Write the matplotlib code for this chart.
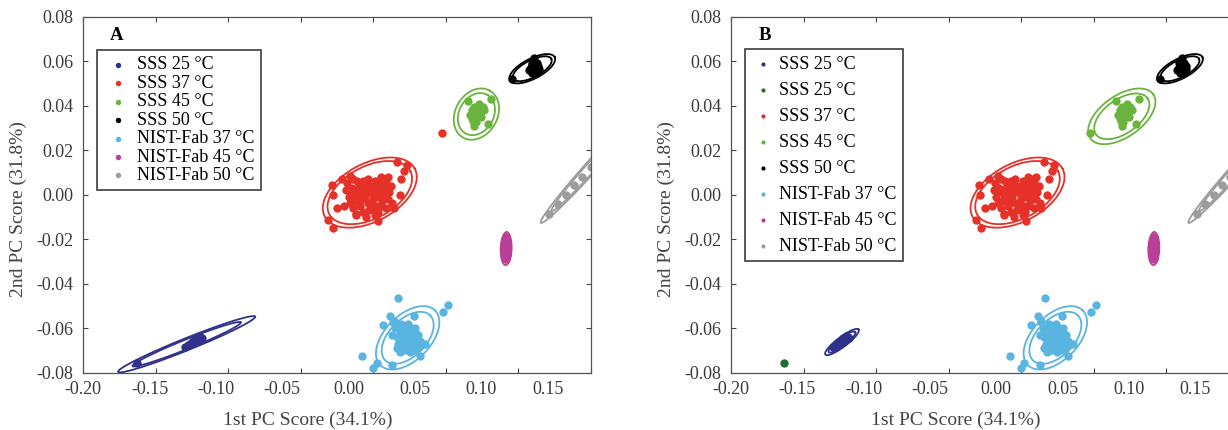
import numpy as np
import matplotlib
matplotlib.use("Agg")
import matplotlib.pyplot as plt

plt.rcParams['font.family'] = ['Liberation Serif', 'DejaVu Serif']
plt.rcParams['axes.unicode_minus'] = False

X_TICKS = [-0.20, -0.15, -0.10, -0.05, 0.00, 0.05, 0.10, 0.15]
Y_TICKS = [-0.08, -0.06, -0.04, -0.02, 0.00, 0.02, 0.04, 0.06, 0.08]

# PC scores (1st PC, 2nd PC)
SSS25_X = [-0.1276, -0.1230, -0.1195, -0.1252, -0.1299, -0.1215, -0.1240, -0.1205, -0.1265, -0.1185]
SSS25_Y = [-0.0677, -0.0647, -0.0640, -0.0662, -0.0685, -0.0652, -0.0660, -0.0636, -0.0672, -0.0645]
SSS25_OUT_X = [-0.1632]
SSS25_OUT_Y = [-0.0756]

SSS37_X = [0.0161, 0.0230, 0.0210, 0.0190, 0.0100, -0.0287, -0.0218, -0.0160, -0.0310, -0.0276,
           0.0034, -0.0120, -0.0280, -0.0250, 0.0140, 0.0180,
           -0.015, -0.012, -0.010, -0.008, -0.006, -0.004, -0.002, 0.000, 0.002, 0.004,
           0.006, -0.009, -0.013, -0.005, 0.001, 0.005, 0.008, -0.017, -0.011, -0.003,
           0.003, -0.007, 0.010, -0.001, -0.014, 0.007, -0.019, 0.011, -0.006, 0.000,
           -0.009, 0.004, -0.002, -0.016, 0.009, -0.020,
           -0.018, -0.014, -0.011, -0.007, -0.004, -0.001, 0.002, 0.005, 0.008, 0.012,
           -0.016, -0.012, -0.008, -0.003, 0.001, 0.006, 0.009, -0.010, -0.005, 0.003,
           -0.013, 0.013]
SSS37_Y = [0.0148, 0.0133, 0.0105, 0.0072, 0.0080, 0.0043, 0.0068, 0.0085, -0.0115, -0.0152,
           -0.0118, -0.0085, 0.0000, -0.0060, -0.0060, 0.0000,
           0.003, 0.000, 0.004, -0.002, 0.002, -0.004, 0.001, -0.002, 0.003, -0.001,
           0.002, -0.005, -0.003, 0.005, 0.006, -0.005, 0.004, -0.001, 0.006, -0.007,
           -0.008, -0.008, -0.002, 0.004, -0.006, 0.007, 0.002, 0.001, -0.001, 0.000,
           0.001, 0.005, -0.004, -0.004, -0.006, -0.005,
           0.005, 0.007, -0.001, 0.006, 0.007, -0.006, -0.005, 0.008, 0.000, 0.004,
           0.001, -0.009, 0.003, 0.002, -0.009, -0.003, 0.006, -0.003, -0.010, 0.000,
           0.002, -0.004]
SSS37_OUT_X = [0.0476]
SSS37_OUT_Y = [0.0275]

SSS45_X = [0.0655, 0.0810, 0.0793, 0.0694, 0.0708, 0.0724, 0.0754, 0.0713, 0.0679, 0.0701,
           0.0736, 0.0667, 0.0687, 0.0729, 0.0763, 0.0695, 0.0720, 0.0745, 0.0705, 0.0680]
SSS45_Y = [0.0422, 0.0430, 0.0316, 0.0308, 0.0365, 0.0392, 0.0392, 0.0358, 0.0380, 0.0343,
           0.0365, 0.0358, 0.0331, 0.0407, 0.0380, 0.0395, 0.0370, 0.0350, 0.0325, 0.0345]

SSS50_X = [0.0957, 0.1107, 0.1085, 0.1100, 0.1120, 0.1130, 0.1095, 0.1110, 0.1140, 0.1075, 0.1115,
           0.1105, 0.1090, 0.1125, 0.1135, 0.1100]
SSS50_Y = [0.0520, 0.0613, 0.0575, 0.0560, 0.0570, 0.0555, 0.0545, 0.0585, 0.0565, 0.0560, 0.0548,
           0.0595, 0.0590, 0.0590, 0.0578, 0.0550]

NIST37_X = [0.0168, 0.0517, 0.0479, 0.0115, 0.0138, 0.0069, 0.0283, 0.0357, 0.0322, 0.0127,
            0.0000, 0.0023, -0.0080,
            0.015, 0.018, 0.021, 0.024, 0.027, 0.030, 0.020, 0.023, 0.026, 0.017, 0.029,
            0.032, 0.022, 0.025, 0.019, 0.028, 0.013, 0.031, 0.024, 0.016, 0.034, 0.020, 0.027,
            0.014, 0.019, 0.023, 0.026, 0.029, 0.021, 0.018, 0.025, 0.031, 0.016, 0.022, 0.028]
NIST37_Y = [-0.0467, -0.0497, -0.0530, -0.0547, -0.0572, -0.0587, -0.0547, -0.0670, -0.0727, -0.0767,
            -0.0782, -0.0757, -0.0727,
            -0.060, -0.062, -0.059, -0.061, -0.063, -0.065, -0.065, -0.067, -0.068, -0.067, -0.060,
            -0.066, -0.064, -0.064, -0.069, -0.070, -0.063, -0.069, -0.058, -0.064, -0.067, -0.061, -0.066,
            -0.057, -0.058, -0.062, -0.060, -0.062, -0.070, -0.071, -0.071, -0.063, -0.069, -0.066, -0.067]

NIST45_X = [0.0915, 0.0913, 0.0918, 0.0912, 0.0916, 0.0920, 0.0910, 0.0917, 0.0914, 0.0919, 0.0911]
NIST45_Y = [-0.0200, -0.0220, -0.0240, -0.0260, -0.0280, -0.0230, -0.0250, -0.0190, -0.0290, -0.0270, -0.0210]

NIST50_X = [0.121, 0.127, 0.133, 0.1385, 0.144, 0.150, 0.156, 0.163, 0.170, 0.178, 0.184]
NIST50_Y = [-0.0086, -0.0043, 0.0000, 0.0043, 0.0080, 0.0124, 0.0167, 0.0217, 0.0268, 0.0326, 0.0370]

# confidence ellipses: centre x, centre y, semi-axis u (x, y), conjugate semi-axis v (x, y)
ELL_SSS25_A = [-0.1288, -0.0673, 0.0472, 0.0124, -0.00154, 0.0025]
ELL_SSS25_B = [-0.1235, -0.0663, 0.01146, 0.00563, -0.00207, 0.0018]
ELL_SSS37 = [-0.0025, 0.0009, 0.0310, 0.0108, -0.0094, 0.0115]
ELL_SSS45_A = [0.0710, 0.0362, 0.00931, 0.01052, -0.01254, 0.00473]
ELL_SSS45_B = [0.0694, 0.0352, 0.02169, 0.0099, -0.00823, 0.00767]
ELL_SSS50 = [0.1095, 0.0566, 0.01549, 0.00524, -0.00317, 0.0040]
ELL_NIST37 = [0.0236, -0.0644, 0.0189, 0.0123, -0.0110, 0.0072]
ELL_NIST45 = [0.0915, -0.0243, 0.0003, 0.0074, 0.0038, 0.0]
ELL_NIST50 = [0.152, 0.0138, 0.0366, 0.0265, -0.0031, 0.0018]

C_NAVY = '#2f318b'
C_DKGREEN = '#1f6e30'
C_RED = '#e53128'
C_GREEN = '#6ab43e'
C_BLACK = '#000000'
C_LBLUE = '#5ab4e0'
C_PURPLE = '#bb3f97'
C_GRAY = '#9c9c9c'

FONT = 13
LEG_FONT = 13


def draw_ellipse(ax, ell, color, rings):
  t = np.linspace(0, 2 * np.pi, 300)
  cx, cy, ux, uy, vx, vy = ell
  for s in rings:
    ax.plot(cx + s * (ux * np.cos(t) + vx * np.sin(t)),
            cy + s * (uy * np.cos(t) + vy * np.sin(t)),
            color=color, lw=1.3, zorder=3)


# the printed x labels sit slightly closer together than the tick marks
def to_lab(x):
  return (x + 0.2) / 0.9145 - 0.2


def from_lab(l):
  return (l + 0.2) * 0.9145 - 0.2


def setup_axes(ax, letter):
  ax.set_xlim(-0.2, 0.15)
  ax.set_ylim(-0.08, 0.08)
  ax.set_xticks(X_TICKS)
  ax.set_yticks(Y_TICKS)
  ax.set_yticklabels(["%.2f" % v for v in Y_TICKS])
  ax.tick_params(direction='in', length=3.5, width=0.8, color='#444444',
                 top=True, right=True, labelbottom=False,
                 labelsize=FONT, labelcolor='#3a3a3a')
  ax.tick_params(axis='y', pad=7)
  for sp in ax.spines.values():
    sp.set_color('#555555')
    sp.set_linewidth(0.9)

  sec = ax.secondary_xaxis('bottom', functions=(to_lab, from_lab))
  sec.set_xticks(X_TICKS)
  sec.set_xticklabels(["%.2f" % v for v in X_TICKS])
  sec.tick_params(length=0, pad=6, labelsize=FONT, labelcolor='#3a3a3a')
  sec.spines['bottom'].set_visible(False)

  ax.set_xlabel("1st PC Score (34.1%)", fontsize=14, color='#444444')
  ax.set_ylabel("2nd PC Score (31.8%)", fontsize=14, color='#444444')
  ax.xaxis.set_label_coords(0.443, -0.134)
  ax.xaxis.label.set_va('center')
  ax.yaxis.set_label_coords(-0.128, 0.46)
  ax.yaxis.label.set_va('center')
  ax.text(0.066, 0.948, letter, transform=ax.transAxes, fontsize=13.5,
          fontweight='bold', ha='center', va='center')


def pts(ax, x, y, color, label):
  return ax.scatter(x, y, s=36, color=color, linewidths=0, label=label, zorder=2)


fig = plt.figure(figsize=(12.28, 4.30), dpi=100)
ax_a = fig.add_axes([83.3 / 1228, 57.5 / 430, 507.7 / 1228, 355.8 / 430])
ax_b = fig.add_axes([731 / 1228, 57.5 / 430, 507.7 / 1228, 355.8 / 430])

# panel A
pts(ax_a, SSS25_X + SSS25_OUT_X, SSS25_Y + SSS25_OUT_Y, C_NAVY, "SSS 25 °C")
pts(ax_a, SSS37_X + SSS37_OUT_X, SSS37_Y + SSS37_OUT_Y, C_RED, "SSS 37 °C")
pts(ax_a, SSS45_X, SSS45_Y, C_GREEN, "SSS 45 °C")
pts(ax_a, SSS50_X, SSS50_Y, C_BLACK, "SSS 50 °C")
pts(ax_a, NIST37_X, NIST37_Y, C_LBLUE, "NIST-Fab 37 °C")
pts(ax_a, NIST45_X, NIST45_Y, C_PURPLE, "NIST-Fab 45 °C")
pts(ax_a, NIST50_X, NIST50_Y, C_GRAY, "NIST-Fab 50 °C")
draw_ellipse(ax_a, ELL_SSS25_A, C_NAVY, [0.79, 1.0])
draw_ellipse(ax_a, ELL_SSS37, C_RED, [0.9, 1.0])
draw_ellipse(ax_a, ELL_SSS45_A, C_GREEN, [0.82, 1.0])
draw_ellipse(ax_a, ELL_SSS50, C_BLACK, [0.85, 1.0])
draw_ellipse(ax_a, ELL_NIST37, C_LBLUE, [0.82, 1.0])
draw_ellipse(ax_a, ELL_NIST45, C_PURPLE, [0.7, 0.85, 1.0])
draw_ellipse(ax_a, ELL_NIST50, C_GRAY, [0.8, 1.0])
setup_axes(ax_a, "A")
leg = ax_a.legend(loc='upper left', bbox_to_anchor=(0.0276, 0.906), borderaxespad=0,
                  fontsize=LEG_FONT, markerscale=0.65, handlelength=1.55, handletextpad=0.3,
                  borderpad=0.35, labelspacing=0.08, fancybox=False, framealpha=1,
                  edgecolor='#3c3c3c')
leg.get_frame().set_linewidth(1.2)

# panel B
pts(ax_b, SSS25_X, SSS25_Y, C_NAVY, "SSS 25 °C")
pts(ax_b, SSS25_OUT_X, SSS25_OUT_Y, C_DKGREEN, "SSS 25 °C")
pts(ax_b, SSS37_X, SSS37_Y, C_RED, "SSS 37 °C")
pts(ax_b, SSS45_X + SSS37_OUT_X, SSS45_Y + SSS37_OUT_Y, C_GREEN, "SSS 45 °C")
pts(ax_b, SSS50_X, SSS50_Y, C_BLACK, "SSS 50 °C")
pts(ax_b, NIST37_X, NIST37_Y, C_LBLUE, "NIST-Fab 37 °C")
pts(ax_b, NIST45_X, NIST45_Y, C_PURPLE, "NIST-Fab 45 °C")
pts(ax_b, NIST50_X, NIST50_Y, C_GRAY, "NIST-Fab 50 °C")
draw_ellipse(ax_b, ELL_SSS25_B, C_NAVY, [0.8, 1.0])
draw_ellipse(ax_b, ELL_SSS37, C_RED, [0.9, 1.0])
draw_ellipse(ax_b, ELL_SSS45_B, C_GREEN, [0.82, 1.0])
draw_ellipse(ax_b, ELL_SSS50, C_BLACK, [0.85, 1.0])
draw_ellipse(ax_b, ELL_NIST37, C_LBLUE, [0.82, 1.0])
draw_ellipse(ax_b, ELL_NIST45, C_PURPLE, [0.7, 0.85, 1.0])
draw_ellipse(ax_b, ELL_NIST50, C_GRAY, [0.8, 1.0])
setup_axes(ax_b, "B")
leg = ax_b.legend(loc='upper left', bbox_to_anchor=(0.0276, 0.908), borderaxespad=0,
                  fontsize=LEG_FONT, markerscale=0.5, handlelength=1.25, handletextpad=0.3,
                  borderpad=0.35, labelspacing=0.5, fancybox=False, framealpha=1,
                  edgecolor='#3c3c3c')
leg.get_frame().set_linewidth(1.2)

fig.savefig("out.png", dpi=100)
